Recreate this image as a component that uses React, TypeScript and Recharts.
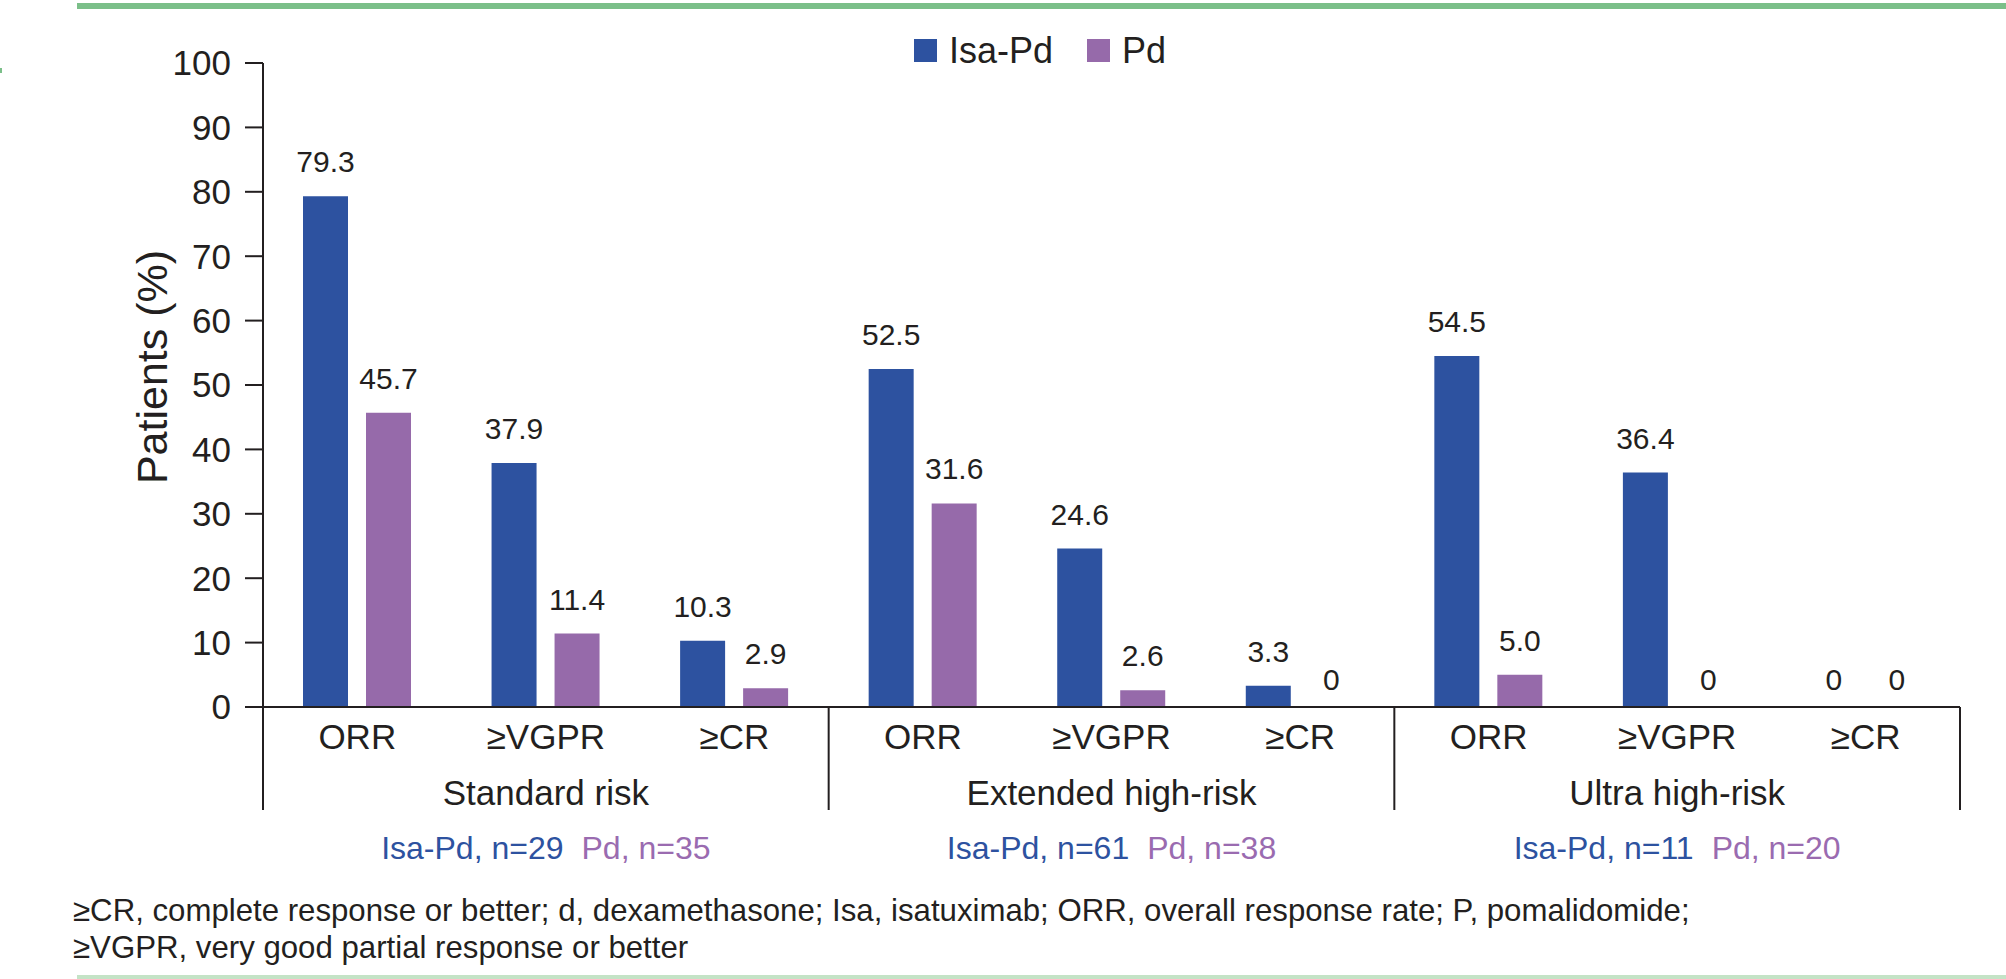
import React from 'react';
import { BarChart, Bar, XAxis, YAxis, LabelList } from 'recharts';

// ---- data ----
const groups = ['Standard risk', 'Extended high-risk', 'Ultra high-risk'];
const responses = ['ORR', '≥VGPR', '≥CR'];
const isaPdValues = [79.3, 37.9, 10.3, 52.5, 24.6, 3.3, 54.5, 36.4, 0];
const pdValues = [45.7, 11.4, 2.9, 31.6, 2.6, 0, 5.0, 0, 0];
const isaPdN = [29, 61, 11];
const pdN = [35, 38, 20];
const yTicks = [0, 10, 20, 30, 40, 50, 60, 70, 80, 90, 100];
const seriesNames = ['Isa-Pd', 'Pd'];
const yLabel = 'Patients (%)';
const footnote1 =
  '≥CR, complete response or better; d, dexamethasone; Isa, isatuximab; ORR, overall response rate; P, pomalidomide;';
const footnote2 = '≥VGPR, very good partial response or better';

const data = isaPdValues.map((v, i) => ({
  key: `${groups[Math.floor(i / 3)]}|${responses[i % 3]}`,
  isaPd: v,
  pd: pdValues[i],
}));

// ---- style / layout ----
const W = 2006;
const H = 979;
const DARK = '#231f20';
const BLUE = '#2d52a0';
const PURPLE = '#966aaa';
const PURPLE_TEXT = '#9a6bb0';
const FONT = '"Liberation Sans", Arial, Helvetica, sans-serif';
const MARGIN = { top: 63, right: 46, left: 0, bottom: 0 };
const Y_AXIS_W = 263;
const X_AXIS_H = 272;
const BAND = (W - MARGIN.left - MARGIN.right - Y_AXIS_W) / data.length;

const fmt = (v: any) => (Number(v) === 0 ? '0' : Number(v).toFixed(1));

const BarLabel = (p: any) => {
  const { x, y, width, value } = p;
  if (x == null || y == null) return null;
  const off = Number(value) === 0 ? 16 : 24;
  return (
    <text x={Number(x) + Number(width) / 2} y={Number(y) - off} textAnchor="middle" fontSize={30} fill={DARK} fontFamily={FONT}>
      {fmt(value)}
    </text>
  );
};

const XTick = (props: any) => {
  const { x, y, index } = props;
  const gi = Math.floor(index / 3);
  return (
    <g>
      <text x={x} y={y + 42} textAnchor="middle" fontSize={35} fill={DARK} fontFamily={FONT}>
        {responses[index % 3]}
      </text>
      {index % 3 === 0 && (
        <line x1={x - BAND / 2} x2={x - BAND / 2} y1={y} y2={y + 103} stroke={DARK} strokeWidth={2} />
      )}
      {index === data.length - 1 && (
        <line x1={x + BAND / 2} x2={x + BAND / 2} y1={y} y2={y + 103} stroke={DARK} strokeWidth={2} />
      )}
      {index % 3 === 1 && (
        <>
          <text x={x} y={y + 98} textAnchor="middle" fontSize={35} fill={DARK} fontFamily={FONT}>
            {groups[gi]}
          </text>
          <text x={x} y={y + 152} textAnchor="middle" fontSize={32} fontFamily={FONT}>
            <tspan fill={BLUE}>{`Isa-Pd, n=${isaPdN[gi]}`}</tspan>
            <tspan fill={PURPLE_TEXT} dx={18}>{`Pd, n=${pdN[gi]}`}</tspan>
          </text>
        </>
      )}
    </g>
  );
};

export default function App() {
  return (
    <div style={{ position: 'absolute', left: 0, top: 0, width: W, height: H, background: '#fff', fontFamily: FONT }}>
      <BarChart
        width={W}
        height={H}
        data={data}
        margin={MARGIN}
        barSize={45}
        barGap={18}
      >
        <XAxis
          dataKey="key"
          height={X_AXIS_H}
          interval={0}
          tickLine={false}
          tickSize={0}
          tickMargin={0}
          axisLine={{ stroke: DARK, strokeWidth: 2 }}
          tick={<XTick />}
        />
        <YAxis
          width={Y_AXIS_W}
          domain={[0, 100]}
          ticks={yTicks}
          interval={0}
          tickSize={18}
          tickMargin={14}
          axisLine={{ stroke: DARK, strokeWidth: 2 }}
          tickLine={{ stroke: DARK, strokeWidth: 2 }}
          tick={{ fontSize: 35, fill: DARK, fontFamily: FONT }}
        />
        <Bar dataKey="isaPd" name={seriesNames[0]} fill={BLUE} minPointSize={1} isAnimationActive={false}>
          <LabelList dataKey="isaPd" content={<BarLabel />} />
        </Bar>
        <Bar dataKey="pd" name={seriesNames[1]} fill={PURPLE} minPointSize={1} isAnimationActive={false}>
          <LabelList dataKey="pd" content={<BarLabel />} />
        </Bar>
      </BarChart>
      <svg
        width={W}
        height={H}
        style={{ position: 'absolute', left: 0, top: 0, pointerEvents: 'none' }}
      >
        <rect x={77} y={3} width={W - 77} height={6} fill="#7bbf89" />
        <rect x={0} y={68} width={2} height={5} fill="#7bbf89" />
        <text
          x={152}
          y={367}
          transform="rotate(-90 152 367)"
          textAnchor="middle"
          dominantBaseline="central"
          fontSize={43}
          fill={DARK}
          fontFamily={FONT}
        >
          {yLabel}
        </text>
        <rect x={914} y={39} width={23} height={23} fill={BLUE} />
        <text x={949} y={63} fontSize={36} fill={DARK} fontFamily={FONT}>{seriesNames[0]}</text>
        <rect x={1087} y={39} width={23} height={23} fill={PURPLE} />
        <text x={1122} y={63} fontSize={36} fill={DARK} fontFamily={FONT}>{seriesNames[1]}</text>
        <text x={73} y={921} fontSize={31.2} fill={DARK} fontFamily={FONT}>{footnote1}</text>
        <text x={73} y={958} fontSize={31.2} fill={DARK} fontFamily={FONT}>{footnote2}</text>
        <rect x={77} y={975} width={W - 77} height={4} fill="#c4e3c6" />
      </svg>
    </div>
  );
}
